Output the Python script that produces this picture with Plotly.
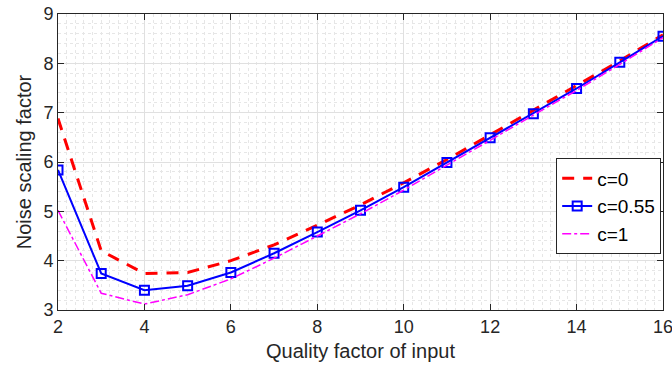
import plotly.graph_objects as go

quality = [2, 3, 4, 5, 6, 7, 8, 9, 10, 11, 12, 13, 14, 15, 16]
c0 = [6.88, 4.2, 3.74, 3.76, 4.0, 4.32, 4.72, 5.13, 5.58, 6.05, 6.55, 7.05, 7.55, 8.05, 8.58]
c055 = [5.84, 3.74, 3.40, 3.49, 3.76, 4.15, 4.58, 5.02, 5.49, 5.99, 6.49, 6.98, 7.49, 8.02, 8.55]
c1 = [5.02, 3.34, 3.12, 3.31, 3.63, 4.05, 4.50, 4.95, 5.43, 5.93, 6.44, 6.95, 7.45, 7.98, 8.52]
names = ["c=0", "c=0.55", "c=1"]
x_ticks = [2, 4, 6, 8, 10, 12, 14, 16]
y_ticks = [3, 4, 5, 6, 7, 8, 9]

FONT = "Liberation Sans, Arial"

fig = go.Figure()
fig.add_trace(go.Scatter(x=quality, y=c0, name=names[0], mode="lines",
                         line=dict(color="#ff0000", width=3, dash="12px,9px")))
fig.add_trace(go.Scatter(x=quality, y=c055, name=names[1], mode="lines+markers",
                         line=dict(color="#0000ff", width=2),
                         marker=dict(symbol="square-open", size=9, color="#0000ff",
                                     line=dict(width=2, color="#0000ff"))))
fig.add_trace(go.Scatter(x=quality, y=c1, name=names[2], mode="lines",
                         line=dict(color="#ff00ff", width=1.5, dash="dashdot")))

axis_common = dict(
    showline=True, linecolor="#262626", linewidth=1, mirror="ticks",
    ticks="inside", ticklen=6, tickcolor="#262626",
    showgrid=True, gridcolor="#e0e0e0", gridwidth=1,
    zeroline=False, ticklabeloverflow="allow", automargin=False,
    tickfont=dict(family=FONT, size=18, color="#262626"),
)

fig.update_xaxes(range=[2, 16], tickvals=x_ticks,
                 title=dict(text="Quality factor of input", standoff=8,
                            font=dict(family=FONT, size=20, color="#262626")),
                 minor=dict(dtick=0.2, showgrid=True, gridcolor="#e6e6e6", griddash="dot", gridwidth=1),
                 **axis_common)
fig.update_yaxes(range=[3, 9], tickvals=y_ticks,
                 title=dict(text="Noise scaling factor", standoff=6,
                            font=dict(family=FONT, size=20, color="#262626")),
                 minor=dict(dtick=0.2, showgrid=True, gridcolor="#e6e6e6", griddash="dot", gridwidth=1),
                 **axis_common)

fig.update_layout(
    width=672, height=375,
    margin=dict(l=58, r=9, t=14, b=65),
    paper_bgcolor="white", plot_bgcolor="white",
    legend=dict(x=0.997, y=0.35, xanchor="right", yanchor="middle",
                bgcolor="white", bordercolor="#262626", borderwidth=1,
                font=dict(family=FONT, size=19, color="#000000"),
                tracegroupgap=0, itemwidth=30),
    showlegend=True,
)

fig.write_html("out.html")
